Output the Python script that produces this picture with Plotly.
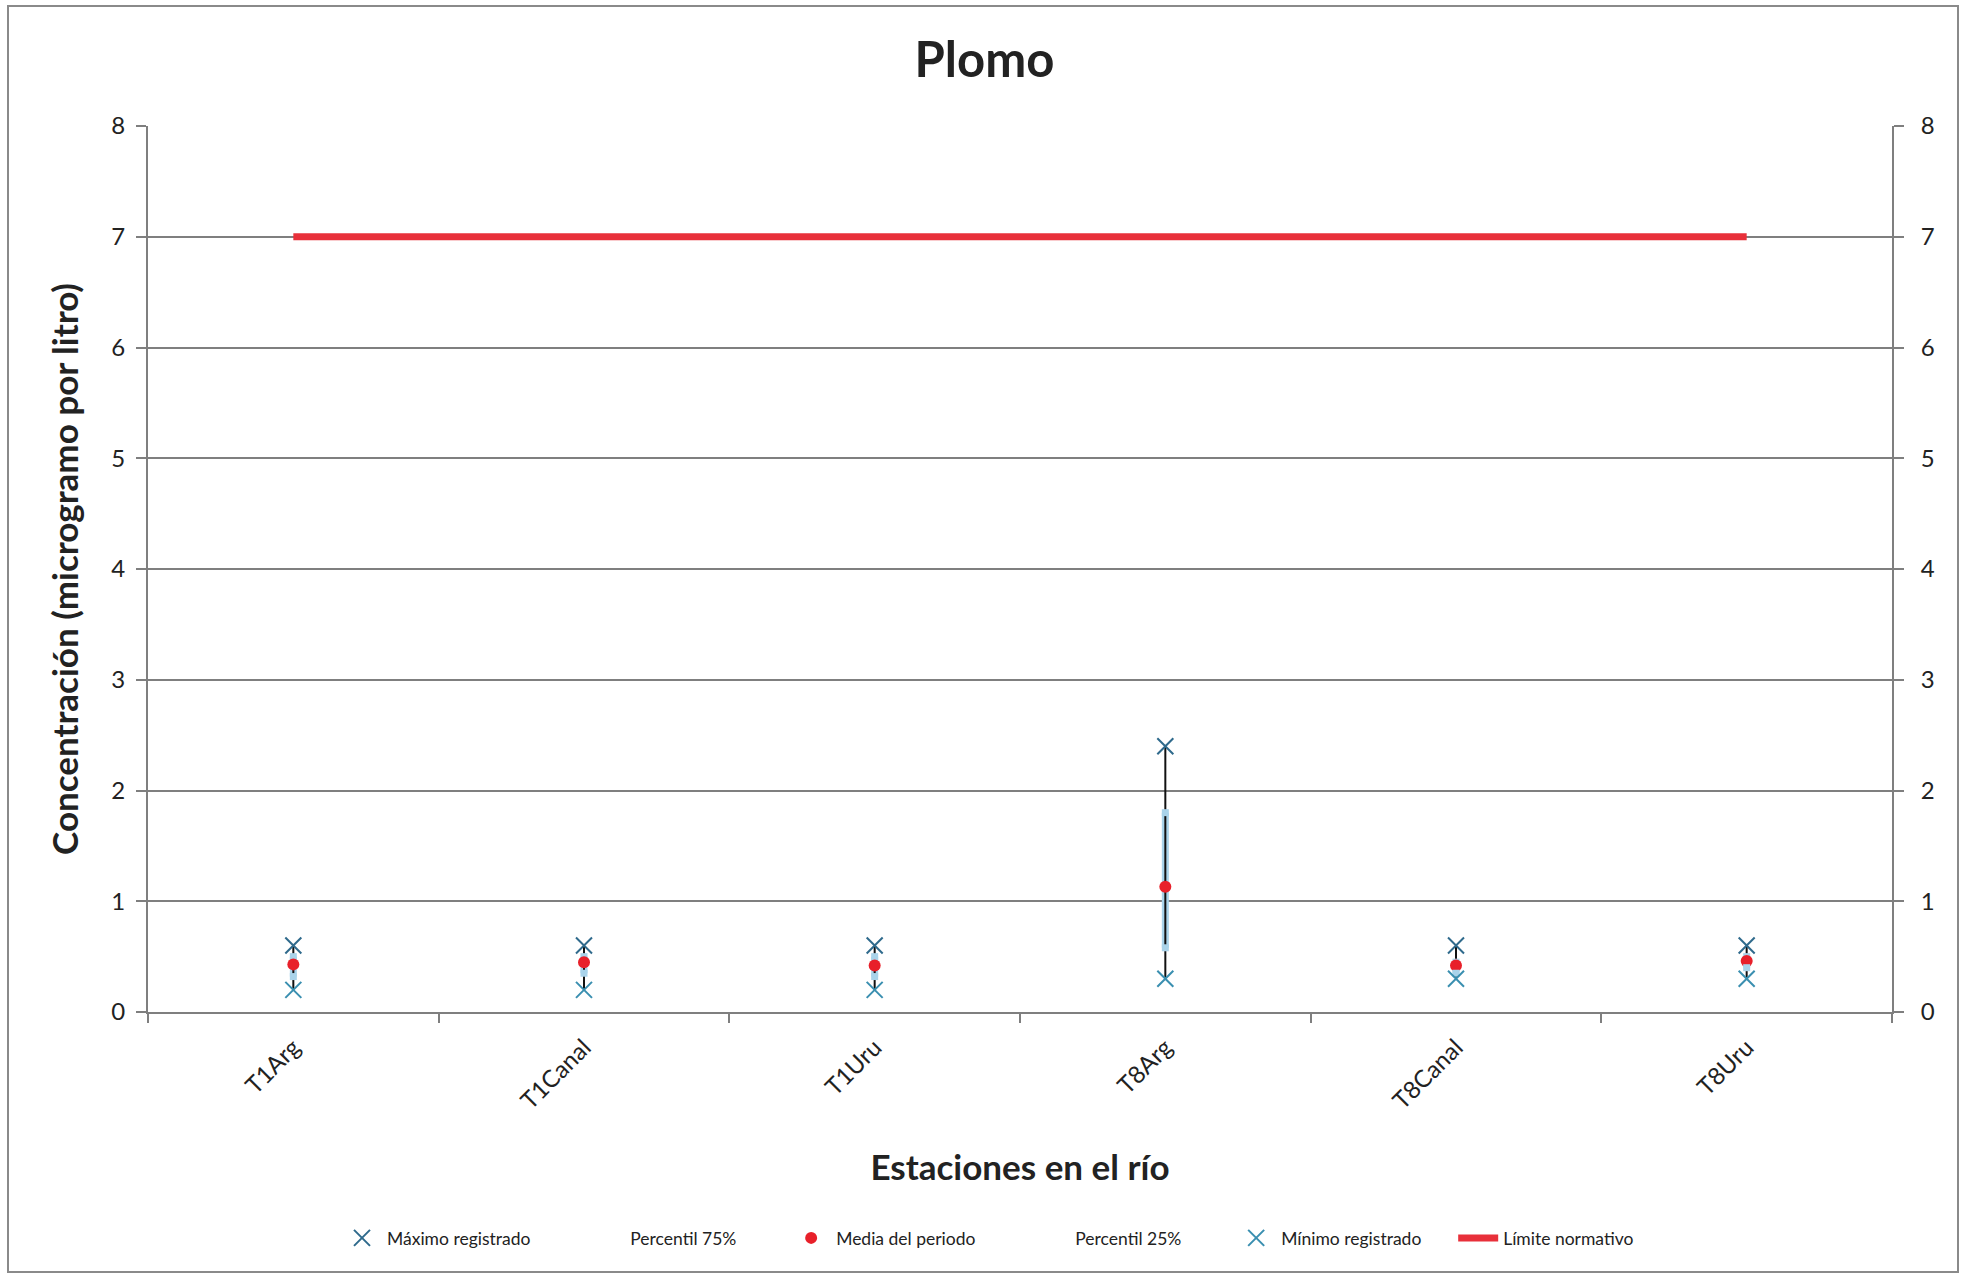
import plotly.graph_objects as go

stations = ["T1Arg", "T1Canal", "T1Uru", "T8Arg", "T8Canal", "T8Uru"]
maximo = [0.6, 0.6, 0.6, 2.4, 0.6, 0.6]
p75 = [0.5, 0.5, 0.5, 1.8, 0.45, 0.5]
media = [0.43, 0.45, 0.42, 1.13, 0.42, 0.46]
p25 = [0.32, 0.35, 0.32, 0.58, 0.35, 0.4]
minimo = [0.2, 0.2, 0.2, 0.3, 0.3, 0.3]
limite = [7, 7, 7, 7, 7, 7]

FONT = "Lato"
NB = "\u00a0"
pad = NB * 10
pad_short = NB * 6

fig = go.Figure()

# light blue band between percentiles
bx, by = [], []
for s, lo, hi in zip(stations, p25, p75):
    bx += [s, s, None]
    by += [lo, hi, None]
fig.add_trace(go.Scatter(x=bx, y=by, mode="lines", line=dict(color="#a9d3ea", width=7),
                         showlegend=False, hoverinfo="skip"))

# black high-low line
hx, hy = [], []
for s, lo, hi in zip(stations, minimo, maximo):
    hx += [s, s, None]
    hy += [lo, hi, None]
fig.add_trace(go.Scatter(x=hx, y=hy, mode="lines", line=dict(color="#111111", width=2),
                         showlegend=False, hoverinfo="skip"))

fig.add_trace(go.Scatter(x=stations, y=maximo, mode="markers", name="Máximo registrado" + pad,
                         marker=dict(symbol="x-thin", size=16, line=dict(color="#2f6a8c", width=2))))
fig.add_trace(go.Scatter(x=stations, y=p75, mode="markers", name="Percentil 75%" + pad,
                         marker=dict(symbol="square", size=7, color="rgba(169,211,234,1)"),
                         showlegend=False))
fig.add_trace(go.Scatter(x=[None], y=[None], mode="markers", name="Percentil 75%" + pad,
                         marker=dict(size=7, color="rgba(0,0,0,0)")))
fig.add_trace(go.Scatter(x=stations, y=media, mode="markers", name="Media del periodo" + pad,
                         marker=dict(symbol="circle", size=12, color="#e8202a")))
fig.add_trace(go.Scatter(x=stations, y=p25, mode="markers", name="Percentil 25%" + pad,
                         marker=dict(symbol="square", size=7, color="rgba(169,211,234,1)"),
                         showlegend=False))
fig.add_trace(go.Scatter(x=[None], y=[None], mode="markers", name="Percentil 25%" + pad,
                         marker=dict(size=7, color="rgba(0,0,0,0)")))
fig.add_trace(go.Scatter(x=stations, y=minimo, mode="markers", name="Mínimo registrado" + pad_short,
                         marker=dict(symbol="x-thin", size=16, line=dict(color="#3a8fb0", width=2))))
fig.add_trace(go.Scatter(x=stations, y=limite, mode="lines", name="Límite normativo",
                         line=dict(color="#e8303a", width=7), yaxis="y2"))

axis_gray = "#7f7f7f"
fig.update_layout(
    width=1969, height=1274,
    paper_bgcolor="white", plot_bgcolor="white",
    margin=dict(l=148, r=77, t=126, b=262),
    font=dict(family=FONT, color="#222222"),
    title=dict(text="<b>Plomo</b>", x=0.5, xref="container", xanchor="center",
               y=1 - 60 / 1274, yref="container", yanchor="middle",
               font=dict(size=49, family=FONT, color="#222222")),
    xaxis=dict(type="category", categoryorder="array", categoryarray=stations,
               range=[-0.5, 5.5], tickson="boundaries", ticks="outside", ticklen=9,
               tickcolor=axis_gray, tickwidth=2,
               showline=True, linecolor=axis_gray, linewidth=2, showgrid=False,
               tickangle=-45, tickfont=dict(size=24, family=FONT, color="#222222"),
               ticklabelstandoff=10,
               title=dict(text="<b>Estaciones en el río</b>", standoff=42,
                          font=dict(size=35, family=FONT, color="#222222"))),
    yaxis=dict(range=[0, 8], dtick=1, tick0=0, ticks="outside", ticklen=10,
               tickcolor=axis_gray, tickwidth=2,
               showline=True, linecolor=axis_gray, linewidth=2,
               showgrid=True, gridcolor=axis_gray, gridwidth=2, zeroline=False,
               tickfont=dict(size=24, family=FONT, color="#222222"), ticklabelstandoff=6,
               title=dict(text="<b>Concentración (microgramo por litro)</b>", standoff=22,
                          font=dict(size=35, family=FONT, color="#222222"))),
    yaxis2=dict(range=[0, 8], dtick=1, tick0=0, overlaying="y", side="right",
                ticks="outside", ticklen=10, tickcolor=axis_gray, tickwidth=2,
                showline=True, linecolor=axis_gray, linewidth=2, showgrid=False, zeroline=False,
                tickfont=dict(size=24, family=FONT, color="#222222"), ticklabelstandoff=12),
    showlegend=True,
    legend=dict(orientation="h", xref="container", yref="container",
                x=337 / 1969, xanchor="left", y=1 - 1238 / 1274, yanchor="middle",
                font=dict(size=17.5, family=FONT, color="#222222"),
                bgcolor="rgba(0,0,0,0)", itemwidth=40, tracegroupgap=0),
    shapes=[dict(type="rect", xref="paper", yref="paper",
                 x0=(8 - 148) / 1744, x1=(1958 - 148) / 1744,
                 y0=(1012 - 1272) / 886, y1=(1012 - 6) / 886,
                 line=dict(color="#8a8a8a", width=2), fillcolor="rgba(0,0,0,0)", layer="below")],
)

fig.write_html("out.html", config={"displayModeBar": False},
               post_script="document.body.style.margin='0';document.body.style.overflow='hidden';")
